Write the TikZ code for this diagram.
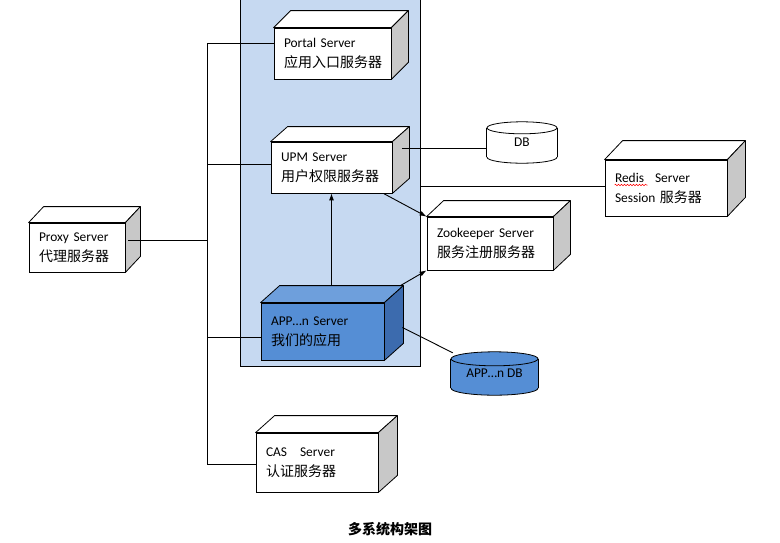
\documentclass[tikz,border=0pt]{standalone}
\usepackage{fontspec}
\setmainfont{Carlito}
\newfontfamily\cjk{Noto Sans CJK SC}
\usetikzlibrary{calc,arrows.meta,decorations.pathmorphing}
\pgfdeclarelayer{bglayer}
\pgfdeclarelayer{cyllayer}
\pgfsetlayers{bglayer,cyllayer,main}
\definecolor{panelblue}{HTML}{C6D9F1}
\definecolor{appfront}{HTML}{558ED5}
\definecolor{apptop}{HTML}{6E9FDC}
\definecolor{appside}{HTML}{3C6BAE}
\definecolor{sidegray}{HTML}{C8C8C8}
\newcommand{\zhtxt}[1]{{\cjk\fontsize{14}{20}\selectfont #1}}
\newcommand{\cubefaces}[5]{%
  \filldraw[fill=#4, line width=.8pt, line join=round] (#1.north west) -- ++(#2,-#3) -- ($(#1.north east)+(#2,-#3)$) -- (#1.north east) -- cycle;
  \filldraw[fill=#5, line width=.8pt, line join=round] (#1.north east) -- ($(#1.north east)+(#2,-#3)$) -- ($(#1.south east)+(#2,-#3)$) -- (#1.south east) -- cycle;
}
\newcommand{\cylshape}[4]{% name, rx, ry, fill
  \begin{pgfonlayer}{cyllayer}
  \filldraw[fill=#4, line width=.8pt] ($(#1.south)+(0,-#3)$) ellipse [x radius=#2pt, y radius=#3pt];
  \fill[#4] ($(#1.north west)+(0,#3)$) rectangle ($(#1.south east)+(0,-#3)$);
  \draw[line width=.8pt] ($(#1.north west)+(0,#3)$) -- ($(#1.south west)+(0,-#3)$);
  \draw[line width=.8pt] ($(#1.north east)+(0,#3)$) -- ($(#1.south east)+(0,-#3)$);
  \filldraw[fill=#4, line width=.8pt] ($(#1.north)+(0,#3)$) ellipse [x radius=#2pt, y radius=#3pt];
  \end{pgfonlayer}
}
\tikzset{
  server/.style={draw, line width=.8pt, fill=white, inner xsep=10pt, inner ysep=0pt,
    align=left, font=\fontsize{13.4}{20}\selectfont},
  cylnode/.style={inner sep=0pt, font=\fontsize{13.4}{16}\selectfont},
  conn/.style={line width=.9pt},
  arr/.style={line width=.9pt, -{Latex[length=7pt,width=5pt]}},
}
\begin{document}
\begin{tikzpicture}[x=1pt,y=-1pt]
\useasboundingbox (0,0) rectangle (780,542);
\begin{pgfonlayer}{bglayer}
\node[draw, line width=.8pt, fill=panelblue, inner sep=0pt, minimum width=180pt, minimum height=370pt] (container) at (330,181) {};
\end{pgfonlayer}

\node[server, text width=97pt, minimum height=51pt] (portal) at (332.5,53.5) {Portal Server\\\zhtxt{应用入口服务器}};
\cubefaces{portal}{17}{17}{white}{sidegray}
\node[server, text width=101pt, minimum height=51pt] (upm) at (331.5,167.5) {UPM Server\\\zhtxt{用户权限服务器}};
\cubefaces{upm}{17}{15}{white}{sidegray}
\node[server, fill=appfront, text width=103pt, minimum height=57pt] (app) at (322.5,331.5) {APP…n Server\\\zhtxt{我们的应用}};
\cubefaces{app}{19}{17}{apptop}{appside}
\node[server, text width=106pt, minimum height=53pt] (zk) at (490,243.5) {Zookeeper Server\\\zhtxt{服务注册服务器}};
\cubefaces{zk}{17}{16}{white}{sidegray}
\node[server, text width=102pt, minimum height=56pt] (redis) at (666,188) {Redis\hspace{11pt}Server\\Session \zhtxt{服务器}};
\cubefaces{redis}{18}{19}{white}{sidegray}
\node[server, text width=76pt, minimum height=49pt] (proxy) at (77,247.5) {Proxy Server\\\zhtxt{代理服务器}};
\cubefaces{proxy}{15}{16}{white}{sidegray}
\node[server, text width=102pt, minimum height=59pt] (cas) at (317,462.5) {CAS\hspace{13pt}Server\\\zhtxt{认证服务器}};
\cubefaces{cas}{19}{17}{white}{sidegray}

\node[cylnode, minimum width=70pt, minimum height=41pt] (db) at (522,142.5) {DB};
\cylshape{db}{35}{6}{white}
\node[cylnode, minimum width=87pt, minimum height=43pt] (appdb) at (494.5,373.5) {APP…n DB};
\cylshape{appdb}{43.5}{7}{appfront}

\draw[red, line width=.5pt, decorate, decoration={snake, amplitude=.8pt, segment length=3pt}]
  ($(redis.west)+(10,-3)$) -- ($(redis.west)+(43,-3)$);

\node[font=\cjk\bfseries\fontsize{14}{16}\selectfont] (title) at (390,529) {多系统构架图};

\coordinate (btop) at (207,43);
\coordinate (bbot) at (207,464);
\coordinate (bu) at (207,164);
\coordinate (bp) at (207,240);
\coordinate (ba) at (207,337);
\coordinate (ud) at (402,148);
\draw[conn] (btop) -- (bbot);
\draw[conn] (btop) -- (btop -| portal.west);
\draw[conn] (bu) -- (bu -| upm.west);
\draw[conn] ($(bp -| proxy.east)+(3,0)$) -- (bp);
\draw[conn] (ba) -- (ba -| app.west);
\draw[conn] (bbot) -- (bbot -| cas.west);
\draw[conn] (ud) -- (ud -| db.west);
\draw[conn] ($(redis.west -| container.east)+(0,-2)$) -- ($(redis.west)+(0,-2)$);
\draw[arr] ($(upm.south east)+(-9,0)$) -- (zk.north west);
\draw[arr] ($(app.north east)+(16,-17)$) -- (zk.south west);
\draw[arr] ($(app.north -| upm.south)+(0,-17)$) -- (upm.south);
\draw[conn] ($(app.east)+(18,-4)$) -- ($(appdb.north west)+(2,1)$);
\end{tikzpicture}
\end{document}
